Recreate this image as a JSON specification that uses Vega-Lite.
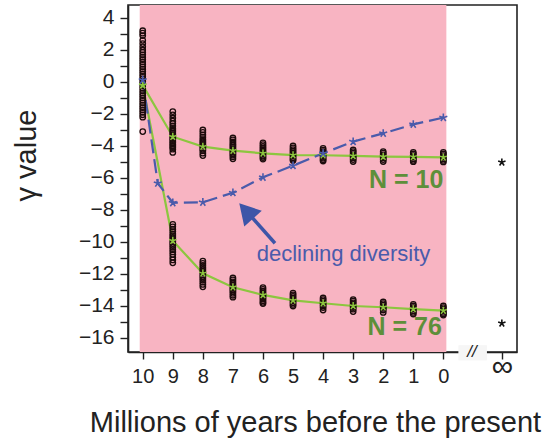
{
  "$schema": "https://vega.github.io/schema/vega-lite/v6.json",
  "width": 389,
  "height": 347,
  "autosize": {"type": "none"},
  "padding": {"left": 128, "top": 5, "right": 31, "bottom": 87},
  "background": "white",
  "config": {
    "view": {"stroke": "#222222", "strokeWidth": 1.6},
    "axis": {"grid": false, "labelOverlap": false, "labelFlush": false, "labelBound": false, "domainColor": "#222222", "domainWidth": 1.6, "tickColor": "#222222", "tickWidth": 1.4, "labelColor": "#222222", "titleColor": "#222222", "labelFont": "Liberation Sans", "titleFont": "Liberation Sans", "titleFontWeight": "normal"}
  },
  "datasets": {
    "bg": [{"x": 10.1, "x2": -0.1}],
    "brk": [{"x": -0.5, "x2": -1.45, "y": -17.4, "y2": -16.45}],
    "means": [
      {"s": "N10", "x": 10, "y": -0.2}, {"s": "N10", "x": 9, "y": -3.42}, {"s": "N10", "x": 8, "y": -4.04}, {"s": "N10", "x": 7, "y": -4.29}, {"s": "N10", "x": 6, "y": -4.46}, {"s": "N10", "x": 5, "y": -4.57}, {"s": "N10", "x": 4, "y": -4.58}, {"s": "N10", "x": 3, "y": -4.62}, {"s": "N10", "x": 2, "y": -4.67}, {"s": "N10", "x": 1, "y": -4.68}, {"s": "N10", "x": 0, "y": -4.71},
      {"s": "N76", "x": 10, "y": -0.2}, {"s": "N76", "x": 9, "y": -9.92}, {"s": "N76", "x": 8, "y": -11.96}, {"s": "N76", "x": 7, "y": -12.83}, {"s": "N76", "x": 6, "y": -13.31}, {"s": "N76", "x": 5, "y": -13.65}, {"s": "N76", "x": 4, "y": -13.83}, {"s": "N76", "x": 3, "y": -14.0}, {"s": "N76", "x": 2, "y": -14.08}, {"s": "N76", "x": 1, "y": -14.19}, {"s": "N76", "x": 0, "y": -14.29}
    ],
    "blue": [
      {"x": 10, "y": 0.12}, {"x": 9.5, "y": -6.33}, {"x": 9, "y": -7.55}, {"x": 8, "y": -7.52}, {"x": 7, "y": -6.92}, {"x": 6, "y": -5.96}, {"x": 5, "y": -5.23}, {"x": 4, "y": -4.46}, {"x": 3, "y": -3.73}, {"x": 2, "y": -3.21}, {"x": 1, "y": -2.65}, {"x": 0, "y": -2.23}
    ],
    "inf": [{"x": -1.946, "y": -5.02}, {"x": -1.946, "y": -15.08}],
    "labels": [
      {"x": 0.0, "y": -6.63, "t": "N = 10"},
      {"x": 0.05, "y": -15.81, "t": "N = 76"}
    ],
    "dlab": [{"x": 6.21, "y": -11.19, "t": "declining diversity"}],
    "arrow": [{"x": 5.6, "y": -10.08, "x2": 6.56, "y2": -8.06}],
    "slash": [{"x": -0.95, "y": -16.875, "t": "//"}],
    "pts": [
      {"x": 10, "y": 3.2}, {"x": 10, "y": 3.05}, {"x": 10, "y": 2.9}, {"x": 10, "y": 2.6}, {"x": 10, "y": 2.4}, {"x": 10, "y": 2.2}, {"x": 10, "y": 2.0}, {"x": 10, "y": 1.85}, {"x": 10, "y": 1.7}, {"x": 10, "y": 1.55}, {"x": 10, "y": 1.4}, {"x": 10, "y": 1.25}, {"x": 10, "y": 1.1}, {"x": 10, "y": 0.95}, {"x": 10, "y": 0.8}, {"x": 10, "y": 0.65}, {"x": 10, "y": 0.5}, {"x": 10, "y": 0.35}, {"x": 10, "y": 0.2}, {"x": 10, "y": 0.05}, {"x": 10, "y": -0.1}, {"x": 10, "y": -0.25}, {"x": 10, "y": -0.4}, {"x": 10, "y": -0.55}, {"x": 10, "y": -0.7}, {"x": 10, "y": -0.85}, {"x": 10, "y": -1.0}, {"x": 10, "y": -1.15}, {"x": 10, "y": -1.3}, {"x": 10, "y": -1.45}, {"x": 10, "y": -1.6}, {"x": 10, "y": -1.75}, {"x": 10, "y": -1.9}, {"x": 10, "y": -2.05}, {"x": 10, "y": -2.2}, {"x": 10, "y": -3.1},
      {"x": 9, "y": -1.85}, {"x": 9, "y": -2.05}, {"x": 9, "y": -2.25}, {"x": 9, "y": -2.45}, {"x": 9, "y": -2.6}, {"x": 9, "y": -2.75}, {"x": 9, "y": -2.9}, {"x": 9, "y": -3.0}, {"x": 9, "y": -3.1}, {"x": 9, "y": -3.2}, {"x": 9, "y": -3.3}, {"x": 9, "y": -3.4}, {"x": 9, "y": -3.5}, {"x": 9, "y": -3.6}, {"x": 9, "y": -3.7}, {"x": 9, "y": -3.8}, {"x": 9, "y": -3.9}, {"x": 9, "y": -4.0}, {"x": 9, "y": -4.1}, {"x": 9, "y": -4.2}, {"x": 9, "y": -4.4},
      {"x": 8, "y": -3.0}, {"x": 8, "y": -3.15}, {"x": 8, "y": -3.3}, {"x": 8, "y": -3.45}, {"x": 8, "y": -3.6}, {"x": 8, "y": -3.7}, {"x": 8, "y": -3.8}, {"x": 8, "y": -3.9}, {"x": 8, "y": -4.0}, {"x": 8, "y": -4.1}, {"x": 8, "y": -4.2}, {"x": 8, "y": -4.3}, {"x": 8, "y": -4.45}, {"x": 8, "y": -4.6},
      {"x": 7, "y": -3.5}, {"x": 7, "y": -3.62}, {"x": 7, "y": -3.75}, {"x": 7, "y": -3.87}, {"x": 7, "y": -3.97}, {"x": 7, "y": -4.07}, {"x": 7, "y": -4.17}, {"x": 7, "y": -4.27}, {"x": 7, "y": -4.37}, {"x": 7, "y": -4.47}, {"x": 7, "y": -4.57}, {"x": 7, "y": -4.67}, {"x": 7, "y": -4.8},
      {"x": 6, "y": -3.8}, {"x": 6, "y": -3.92}, {"x": 6, "y": -4.03}, {"x": 6, "y": -4.13}, {"x": 6, "y": -4.23}, {"x": 6, "y": -4.33}, {"x": 6, "y": -4.43}, {"x": 6, "y": -4.53}, {"x": 6, "y": -4.63}, {"x": 6, "y": -4.72}, {"x": 6, "y": -4.82},
      {"x": 5, "y": -4.0}, {"x": 5, "y": -4.12}, {"x": 5, "y": -4.23}, {"x": 5, "y": -4.33}, {"x": 5, "y": -4.43}, {"x": 5, "y": -4.53}, {"x": 5, "y": -4.63}, {"x": 5, "y": -4.73}, {"x": 5, "y": -4.83}, {"x": 5, "y": -4.9},
      {"x": 4, "y": -4.15}, {"x": 4, "y": -4.26}, {"x": 4, "y": -4.36}, {"x": 4, "y": -4.46}, {"x": 4, "y": -4.56}, {"x": 4, "y": -4.66}, {"x": 4, "y": -4.76}, {"x": 4, "y": -4.86}, {"x": 4, "y": -4.94},
      {"x": 3, "y": -4.25}, {"x": 3, "y": -4.35}, {"x": 3, "y": -4.45}, {"x": 3, "y": -4.55}, {"x": 3, "y": -4.65}, {"x": 3, "y": -4.75}, {"x": 3, "y": -4.85}, {"x": 3, "y": -4.97},
      {"x": 2, "y": -4.35}, {"x": 2, "y": -4.45}, {"x": 2, "y": -4.55}, {"x": 2, "y": -4.65}, {"x": 2, "y": -4.75}, {"x": 2, "y": -4.85}, {"x": 2, "y": -4.97},
      {"x": 1, "y": -4.4}, {"x": 1, "y": -4.5}, {"x": 1, "y": -4.6}, {"x": 1, "y": -4.7}, {"x": 1, "y": -4.8}, {"x": 1, "y": -4.9}, {"x": 1, "y": -4.98},
      {"x": 0, "y": -4.4}, {"x": 0, "y": -4.5}, {"x": 0, "y": -4.6}, {"x": 0, "y": -4.7}, {"x": 0, "y": -4.8}, {"x": 0, "y": -4.9}, {"x": 0, "y": -5.0},
      {"x": 9, "y": -8.9}, {"x": 9, "y": -9.05}, {"x": 9, "y": -9.2}, {"x": 9, "y": -9.35}, {"x": 9, "y": -9.5}, {"x": 9, "y": -9.62}, {"x": 9, "y": -9.74}, {"x": 9, "y": -9.86}, {"x": 9, "y": -9.98}, {"x": 9, "y": -10.1}, {"x": 9, "y": -10.22}, {"x": 9, "y": -10.34}, {"x": 9, "y": -10.48}, {"x": 9, "y": -10.62}, {"x": 9, "y": -10.78}, {"x": 9, "y": -10.95}, {"x": 9, "y": -11.12}, {"x": 9, "y": -11.3},
      {"x": 8, "y": -11.2}, {"x": 8, "y": -11.33}, {"x": 8, "y": -11.46}, {"x": 8, "y": -11.59}, {"x": 8, "y": -11.71}, {"x": 8, "y": -11.82}, {"x": 8, "y": -11.93}, {"x": 8, "y": -12.04}, {"x": 8, "y": -12.15}, {"x": 8, "y": -12.26}, {"x": 8, "y": -12.38}, {"x": 8, "y": -12.51}, {"x": 8, "y": -12.65}, {"x": 8, "y": -12.8},
      {"x": 7, "y": -12.25}, {"x": 7, "y": -12.37}, {"x": 7, "y": -12.49}, {"x": 7, "y": -12.6}, {"x": 7, "y": -12.7}, {"x": 7, "y": -12.8}, {"x": 7, "y": -12.9}, {"x": 7, "y": -13.0}, {"x": 7, "y": -13.1}, {"x": 7, "y": -13.21}, {"x": 7, "y": -13.33}, {"x": 7, "y": -13.45},
      {"x": 6, "y": -12.85}, {"x": 6, "y": -12.96}, {"x": 6, "y": -13.07}, {"x": 6, "y": -13.17}, {"x": 6, "y": -13.27}, {"x": 6, "y": -13.37}, {"x": 6, "y": -13.47}, {"x": 6, "y": -13.57}, {"x": 6, "y": -13.67}, {"x": 6, "y": -13.77}, {"x": 6, "y": -13.85},
      {"x": 5, "y": -13.2}, {"x": 5, "y": -13.3}, {"x": 5, "y": -13.4}, {"x": 5, "y": -13.5}, {"x": 5, "y": -13.6}, {"x": 5, "y": -13.7}, {"x": 5, "y": -13.8}, {"x": 5, "y": -13.9}, {"x": 5, "y": -14.0},
      {"x": 4, "y": -13.5}, {"x": 4, "y": -13.6}, {"x": 4, "y": -13.7}, {"x": 4, "y": -13.8}, {"x": 4, "y": -13.9}, {"x": 4, "y": -14.0}, {"x": 4, "y": -14.1}, {"x": 4, "y": -14.25},
      {"x": 3, "y": -13.6}, {"x": 3, "y": -13.7}, {"x": 3, "y": -13.8}, {"x": 3, "y": -13.9}, {"x": 3, "y": -14.0}, {"x": 3, "y": -14.1}, {"x": 3, "y": -14.2}, {"x": 3, "y": -14.35},
      {"x": 2, "y": -13.75}, {"x": 2, "y": -13.85}, {"x": 2, "y": -13.95}, {"x": 2, "y": -14.05}, {"x": 2, "y": -14.15}, {"x": 2, "y": -14.25}, {"x": 2, "y": -14.4},
      {"x": 1, "y": -13.9}, {"x": 1, "y": -14.0}, {"x": 1, "y": -14.1}, {"x": 1, "y": -14.2}, {"x": 1, "y": -14.3}, {"x": 1, "y": -14.4}, {"x": 1, "y": -14.5},
      {"x": 0, "y": -14.0}, {"x": 0, "y": -14.1}, {"x": 0, "y": -14.2}, {"x": 0, "y": -14.3}, {"x": 0, "y": -14.4}, {"x": 0, "y": -14.5}, {"x": 0, "y": -14.57}
    ]
  },
  "layer": [
    {
      "data": {"name": "bg"},
      "mark": {"type": "rect", "color": "#f8b4c2"},
      "encoding": {
        "x": {"field": "x", "type": "quantitative",
          "scale": {"domain": [-2.45, 10.49], "reverse": true, "nice": false, "zero": false},
          "axis": {"title": "Millions of years before the present", "values": [10, 9, 8, 7, 6, 5, 4, 3, 2, 1, 0, -1.946],
            "tickCount": 40, "format": "d",
            "labelExpr": "datum.value < -1 ? '∞' : datum.label",
            "labelFontSize": {"condition": {"test": "datum.value < -1", "value": 30}, "value": 20},
            "labelBaseline": {"condition": {"test": "datum.value < -1", "value": "middle"}, "value": "top"},
            "labelOverlap": false, "labelFlush": false,
            "tickSize": 7, "labelPadding": 7,
            "titleFontSize": 29, "titleX": 187, "titleY": 79, "titleAlign": "center", "titleBaseline": "alphabetic", "titleAnchor": null}
        },
        "x2": {"field": "x2"}
      }
    },
    {
      "mark": {"type": "rule", "color": "#e2232b", "strokeWidth": 1.6},
      "encoding": {"y": {"datum": -1.68}}
    },
    {
      "data": {"name": "means"},
      "mark": {"type": "line", "color": "#8cc63f", "strokeWidth": 2.2},
      "encoding": {
        "x": {"field": "x", "type": "quantitative"},
        "y": {"field": "y", "type": "quantitative",
          "scale": {"domain": [-16.875, 4.81], "nice": false, "zero": false},
          "axis": {"title": "γ value", "values": [-16, -15, -14, -13, -12, -11, -10, -9, -8, -7, -6, -5, -4, -3, -2, -1, 0, 1, 2, 3, 4],
            "tickCount": 40, "format": "d",
            "labelExpr": "datum.value % 2 == 0 ? datum.label : ''",
            "labelFontSize": 21, "labelPadding": 6,
            "tickSize": 8,
            "labelOverlap": false, "labelFlush": false,
            "titleFontSize": 29, "titleAngle": 270, "titleX": -93, "titleY": 150, "titleAlign": "center", "titleBaseline": "alphabetic", "titleAnchor": null}
        },
        "detail": {"field": "s"}
      }
    },
    {
      "data": {"name": "blue"},
      "mark": {"type": "line", "color": "#4a5bab", "strokeWidth": 2.2, "strokeDash": [14, 6]},
      "encoding": {
        "x": {"field": "x", "type": "quantitative"},
        "y": {"field": "y", "type": "quantitative"}
      }
    },
    {
      "data": {"name": "pts"},
      "mark": {"type": "point", "shape": "circle", "filled": false, "stroke": "#1c0c0c", "strokeWidth": 1.3, "size": 30, "opacity": 1},
      "encoding": {
        "x": {"field": "x", "type": "quantitative"},
        "y": {"field": "y", "type": "quantitative"}
      }
    },
    {
      "data": {"name": "means"},
      "mark": {"type": "point", "shape": "M0,0L0,-1M0,0L0.951,-0.309M0,0L0.588,0.809M0,0L-0.588,0.809M0,0L-0.951,-0.309", "filled": false, "stroke": "#8cc63f", "strokeWidth": 1.5, "size": 60, "opacity": 1},
      "encoding": {
        "x": {"field": "x", "type": "quantitative"},
        "y": {"field": "y", "type": "quantitative"}
      }
    },
    {
      "data": {"name": "blue"},
      "mark": {"type": "point", "shape": "M0,0L0,-1M0,0L0.951,-0.309M0,0L0.588,0.809M0,0L-0.588,0.809M0,0L-0.951,-0.309", "filled": false, "stroke": "#4a5bab", "strokeWidth": 1.6, "size": 70, "opacity": 1},
      "encoding": {
        "x": {"field": "x", "type": "quantitative"},
        "y": {"field": "y", "type": "quantitative"}
      }
    },
    {
      "data": {"name": "inf"},
      "mark": {"type": "point", "shape": "M0,0L0,-1M0,0L0.951,-0.309M0,0L0.588,0.809M0,0L-0.588,0.809M0,0L-0.951,-0.309", "filled": false, "stroke": "#111111", "strokeWidth": 1.6, "size": 60, "opacity": 1},
      "encoding": {
        "x": {"field": "x", "type": "quantitative"},
        "y": {"field": "y", "type": "quantitative"}
      }
    },
    {
      "data": {"name": "labels"},
      "mark": {"type": "text", "align": "right", "baseline": "alphabetic", "font": "Liberation Sans", "fontWeight": "bold", "fontSize": 25, "color": "#5e8f3a"},
      "encoding": {
        "x": {"field": "x", "type": "quantitative"},
        "y": {"field": "y", "type": "quantitative"},
        "text": {"field": "t"}
      }
    },
    {
      "data": {"name": "dlab"},
      "mark": {"type": "text", "align": "left", "baseline": "alphabetic", "font": "Liberation Sans", "fontSize": 22, "color": "#4a5bab"},
      "encoding": {
        "x": {"field": "x", "type": "quantitative"},
        "y": {"field": "y", "type": "quantitative"},
        "text": {"field": "t"}
      }
    },
    {
      "data": {"name": "arrow"},
      "mark": {"type": "rule", "color": "#3d55a8", "strokeWidth": 3.5},
      "encoding": {
        "x": {"field": "x", "type": "quantitative"},
        "y": {"field": "y", "type": "quantitative"},
        "x2": {"field": "x2"},
        "y2": {"field": "y2"}
      }
    },
    {
      "data": {"name": "arrow"},
      "mark": {"type": "point", "shape": "M0,-0.87L1,0.87L-1,0.87Z", "filled": true, "color": "#3d55a8", "size": 557, "angle": 318, "opacity": 1},
      "encoding": {
        "x": {"field": "x2", "type": "quantitative"},
        "y": {"field": "y2", "type": "quantitative"}
      }
    },
    {
      "data": {"name": "brk"},
      "mark": {"type": "rect", "color": "#f6f6f6"},
      "encoding": {
        "x": {"field": "x", "type": "quantitative"},
        "x2": {"field": "x2"},
        "y": {"field": "y", "type": "quantitative"},
        "y2": {"field": "y2"}
      }
    },
    {
      "data": {"name": "slash"},
      "mark": {"type": "text", "align": "center", "baseline": "middle", "font": "Liberation Sans", "fontSize": 17, "fontStyle": "italic", "color": "#222222"},
      "encoding": {
        "x": {"field": "x", "type": "quantitative"},
        "y": {"field": "y", "type": "quantitative"},
        "text": {"field": "t"}
      }
    }
  ]
}
